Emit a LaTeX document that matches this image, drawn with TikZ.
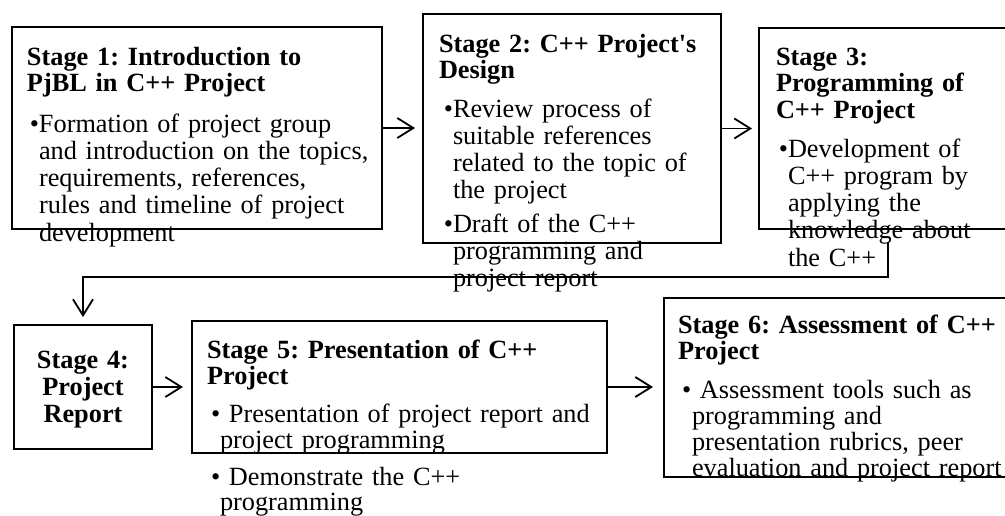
\documentclass[tikz,border=0pt]{standalone}
\usepackage{fontspec}
\setmainfont{Liberation Serif}[Ligatures=TeXOff]
\usetikzlibrary{arrows.meta}
\setlength{\parindent}{0pt}
\frenchspacing
\tikzset{
  box/.style={draw=black, line width=2pt, rectangle, inner sep=0pt, outer sep=0pt},
  txt/.style={inner sep=0pt, outer sep=0pt, text width=#1, align=left, anchor=base west,
              font=\fontsize{26.3}{27.3}\selectfont\frenchspacing},
  txt/.default=520pt,
  ttl/.style={txt=#1, font=\fontsize{26.3}{26.6}\selectfont\bfseries\frenchspacing},
  ttl/.default=520pt,
  arr/.style={line width=1.8pt, -{Straight Barb[length=16pt,width=20pt,line width=1.8pt]}},
}
\begin{document}
\begin{tikzpicture}[x=1pt,y=-1pt]
\useasboundingbox (0,0) rectangle (1005,515);
\clip (0,0) rectangle (1005,515);

% ---- boxes
\node[box, minimum width=370pt, minimum height=202pt] (b1) at (197,128) {};
\node[box, minimum width=298pt, minimum height=229pt] (b2) at (572,128.5) {};
\node[box, minimum width=260pt, minimum height=201pt] (b3) at (889,128.5) {};
\node[box, minimum width=138pt, minimum height=124pt] (b4) at (83,387) {};
\node[box, minimum width=415pt, minimum height=132pt] (b5) at (399.5,387) {};
\node[box, minimum width=355pt, minimum height=179pt] (b6) at (841.5,387.5) {};

% ---- stage 1
\node[ttl] (t1) at (27,65) {Stage 1: Introduction to\\PjBL in C++ Project};
\node[txt] (t1a) at (39,132) {\llap{\textbullet}Formation of project group\\and introduction on the topics,\\requirements, references,\\rules and timeline of project\\development};

% ---- stage 2
\node[ttl] (t2) at (439,52) {Stage 2: C++ Project's\\Design};
\node[txt] (t2a) at (453,117) {\llap{\textbullet}Review process of\\suitable references\\related to the topic of\\the project};
\node[txt] (t2b) at (453,232) {\llap{\textbullet}Draft of the C++\\programming and\\project report};

% ---- stage 3
\node[ttl] (t3) at (776,65) {Stage 3:\\Programming of\\C++ Project};
\node[txt] (t3a) at (788,157) {\llap{\textbullet}Development of\\C++ program by\\applying the\\knowledge about\\the C++};

% ---- stage 4
\node[ttl=140pt, align=center, anchor=base, font=\fontsize{26.3}{27}\selectfont\bfseries\frenchspacing] (t4) at (83,368) {Stage 4:\\Project\\Report};

% ---- stage 5
\node[ttl] (t5) at (207,358) {Stage 5: Presentation of C++\\Project};
\node[txt, font=\fontsize{26.3}{26}\selectfont\frenchspacing] (t5a) at (220,422) {\hspace*{-9pt}\textbullet{} Presentation of project report and\\project programming};
\node[txt, font=\fontsize{26.3}{25.5}\selectfont\frenchspacing] (t5b) at (220,485) {\hspace*{-9pt}\textbullet{} Demonstrate the C++\\programming};

% ---- stage 6
\node[ttl] (t6) at (678,333) {Stage 6: Assessment of C++\\Project};
\node[txt, font=\fontsize{26.3}{26.3}\selectfont\frenchspacing] (t6a) at (692,398) {\hspace*{-10pt}\textbullet{} Assessment tools such as\\programming and\\presentation rubrics, peer\\evaluation and project report};

% ---- connectors
\draw[arr, shorten >=8pt] (b1.east) -- (b1.east -| b2.west);
\draw[arr, shorten >=7pt] (b2.east) -- (b2.east -| b3.west);
\coordinate (c3) at (888,243);
\coordinate (c3b) at (888,277);
\draw[arr, line width=2pt, shorten >=8pt] (c3) -- (c3b) -| (b4.north);
\draw[arr, shorten >=9pt] (b4.east) -- (b4.east -| b5.west);
\draw[arr, shorten >=11pt] (b5.east) -- (b5.east -| b6.west);
\end{tikzpicture}
\end{document}
